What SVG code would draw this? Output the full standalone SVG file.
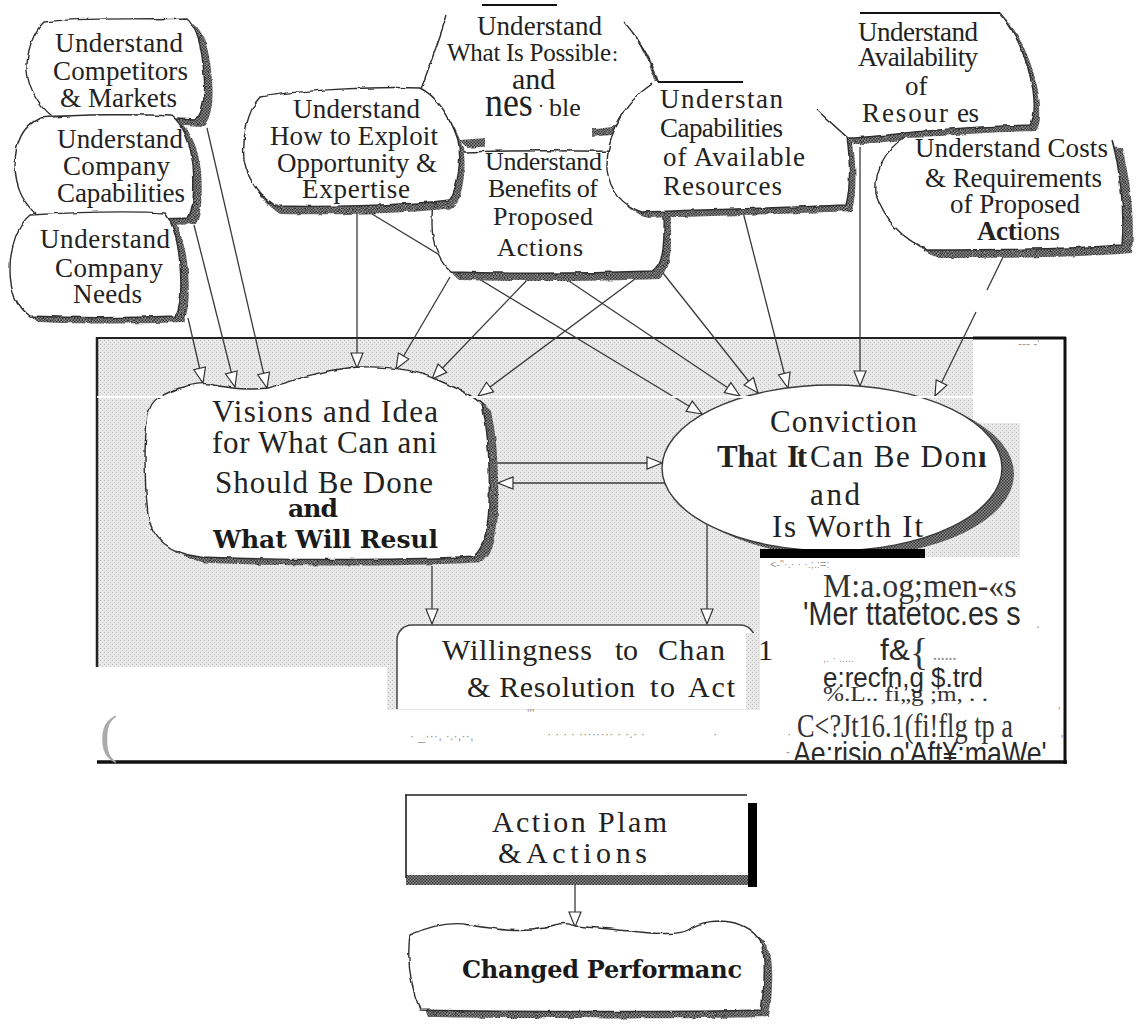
<svg xmlns="http://www.w3.org/2000/svg" width="1142" height="1026" viewBox="0 0 1142 1026">
<defs>
<style>
.t{font-family:"Liberation Serif","Times New Roman",serif;font-size:27px;fill:#222}
.t26{font-size:26px}
.tm{font-size:31px}
.tb{font-family:"DejaVu Serif","Liberation Serif",serif;font-weight:bold;font-size:25px;fill:#1a1a1a}
.ln{fill:none;stroke:#3a3a3a;stroke-width:1.3;marker-end:url(#ah)}
.pl{fill:none;stroke:#3a3a3a;stroke-width:1.3}
.cl{fill:#fff;stroke:#2e2e2e;stroke-width:1.4}
.fillonly{fill:#fff;stroke:none}
.edge{fill:none;stroke:#2e2e2e;stroke-width:1.4}
.sh{fill:url(#shade);stroke:none}
.cap{stroke:#111;stroke-width:2.2}
.gs{font-family:"Liberation Sans",Arial,sans-serif;fill:#2a2a2a}
.gr{font-family:"Liberation Serif","Times New Roman",serif;fill:#333}
.junk{font-family:"Liberation Sans",Arial,sans-serif;font-size:12px;fill:#9a9a9a}
</style>
<pattern id="shade" width="3" height="3" patternUnits="userSpaceOnUse">
<rect width="3" height="3" fill="#8c8c8c"/>
<rect width="1.5" height="1.5" fill="#383838"/>
<rect x="1.5" y="1.5" width="1.5" height="1.5" fill="#383838"/>
</pattern>
<pattern id="stip" width="4" height="4" patternUnits="userSpaceOnUse">
<rect width="4" height="4" fill="#e9e9e9"/>
<rect width="1" height="1" fill="#bbbbbb"/>
<rect x="2" y="2" width="1" height="1" fill="#c8c8c8"/>
</pattern>
<filter id="rough" x="-5%" y="-5%" width="110%" height="110%">
<feTurbulence type="fractalNoise" baseFrequency="0.09" numOctaves="2" seed="3" result="n"/>
<feDisplacementMap in="SourceGraphic" in2="n" scale="3.5" xChannelSelector="R" yChannelSelector="G"/>
</filter>
<marker id="ah" markerWidth="18" markerHeight="14" refX="16" refY="7" orient="auto" markerUnits="userSpaceOnUse">
<path d="M1,1 L16,7 L1,13 Z" fill="#fff" stroke="#333" stroke-width="1.2"/>
</marker>
<clipPath id="clipBottom"><rect x="0" y="0" width="1142" height="760"/></clipPath>
<clipPath id="clipWill"><polygon points="380,600 765,600 765,633 746,633 746,709 380,709"/></clipPath>

<!-- cloud outlines -->
<path id="p1" d="M44,22 C80,17 140,20 186,18 C196,26 202,45 204,75 C206,95 203,112 196,120 C160,118 100,116 52,116 C40,106 30,92 27,72 C26,52 33,32 44,22 Z"/>
<path id="p2" d="M40,118 C80,114 140,114 172,116 C182,124 190,140 193,165 C195,190 193,210 188,218 C150,220 90,218 40,218 C25,205 15,190 15,165 C15,140 25,125 40,118 Z"/>
<path id="p3" d="M30,215 C80,212 130,211 165,213 C172,222 178,240 180,265 C182,290 180,308 176,316 C130,318 70,318 30,316 C15,305 10,290 10,270 C10,245 18,225 30,215 Z"/>
<path id="p4" d="M260,97 C300,90 380,86 420,88 C435,95 450,115 458,140 C462,160 458,185 450,200 C400,206 320,207 275,206 C258,195 248,180 244,160 C242,135 248,110 260,97 Z"/>
<path id="p5" d="M445,16 C437,40 428,65 420,92 C432,110 445,125 460,140 C520,135 580,130 612,126 C630,115 645,100 656,88 C650,62 640,42 626,24 C560,18 500,16 445,16 Z"/>
<path id="p6" d="M440,153 C500,150 600,150 650,153 C660,172 665,200 664,230 C664,255 660,266 652,271 C600,273 520,274 452,272 C440,262 432,245 432,225 C432,200 434,175 440,153 Z"/>
<path id="p7" d="M652,82 L745,82 C775,88 800,98 818,110 L847,137 C850,160 851,185 846,205 C780,208 700,210 642,212 C622,205 610,190 607,170 C606,140 620,105 652,82 Z"/>
<path id="p8" d="M860,13 L1000,13 C1015,30 1028,60 1033,90 C1035,105 1035,118 1030,125 C1000,126 960,127 905,133 C880,136 860,138 848,138 L817,110 C820,80 835,40 860,13 Z"/>
<path id="p9" d="M905,137 C960,135 1060,136 1112,140 C1120,170 1125,210 1122,245 C1060,250 980,250 928,250 C905,240 885,222 876,195 C874,170 885,150 905,137 Z"/>
<path id="pv" d="M158,398 C175,388 195,382 210,384 C230,389 250,390 268,388 C300,378 330,368 360,367 C390,366 415,370 435,379 C455,387 475,396 482,405 C488,430 490,470 489,505 C488,530 484,548 474,556 C420,560 300,561 200,557 C170,553 152,540 148,515 C144,480 144,440 148,415 C150,405 153,401 158,398 Z"/>
<path id="pc" d="M410,935 C430,926 450,921 470,925 C500,930 520,933 545,928 C560,922 570,923 575,926 C600,928 620,930 640,932 C660,934 680,935 688,930 C700,921 720,919 735,923 C750,928 758,935 762,945 C766,965 764,990 761,1010 C700,1012 500,1012 420,1010 C412,990 406,965 410,935 Z"/>
</defs>

<rect width="1142" height="1026" fill="#fff"/>

<!-- stippled panel and its frame -->
<g id="frame">
<polygon fill="url(#stip)" points="97,338 973,338 973,423 1020,423 1020,557 760,557 760,710 387,710 387,667 97,667"/>
<line x1="97" y1="338" x2="973" y2="338" stroke="#222" stroke-width="2"/>
<line x1="973" y1="338" x2="1066" y2="338" stroke="#111" stroke-width="3"/>
<line x1="97" y1="337" x2="97" y2="667" stroke="#222" stroke-width="2.5"/>
<line x1="1065" y1="337" x2="1065" y2="764" stroke="#111" stroke-width="3"/>
<line x1="97" y1="762" x2="1067" y2="762" stroke="#111" stroke-width="3.5"/>
</g>

<!-- connectors -->
<g id="connectors">
<line class="ln" x1="188" y1="318" x2="203" y2="383"/>
<line class="ln" x1="194" y1="225" x2="235" y2="387"/>
<line class="ln" x1="207" y1="128" x2="267" y2="388"/>
<line class="ln" x1="357" y1="212" x2="357" y2="368"/>
<line class="ln" x1="450" y1="277" x2="396" y2="369"/>
<line class="ln" x1="530" y1="277" x2="432" y2="379"/>
<line class="ln" x1="643" y1="273" x2="478" y2="396"/>
<line class="ln" x1="372" y1="214" x2="702" y2="414"/>
<line class="ln" x1="563" y1="277" x2="740" y2="396"/>
<line class="ln" x1="663" y1="273" x2="758" y2="393"/>
<line class="ln" x1="743" y1="212" x2="788" y2="388"/>
<line class="ln" x1="860" y1="147" x2="860" y2="386"/>
<line class="pl" x1="1005" y1="253" x2="987" y2="290"/>
<line class="ln" x1="976" y1="312" x2="935" y2="396"/>
<line class="ln" x1="497" y1="463" x2="662" y2="463"/>
<line class="ln" x1="665" y1="483" x2="498" y2="483"/>
<line class="ln" x1="432" y1="566" x2="432" y2="624"/>
<line class="ln" x1="707" y1="524" x2="707" y2="624"/>
<line class="ln" x1="575" y1="885" x2="575" y2="927"/>
</g>

<!-- top row of inputs -->
<g id="node-competitors">
<g filter="url(#rough)"><use href="#p1" class="sh" transform="translate(8,6)"/><use href="#p1" class="cl"/></g>
<text class="t" x="55" y="52" textLength="128">Understand</text>
<text class="t" x="53" y="80" textLength="135">Competitors</text>
<text class="t" x="60" y="107" textLength="117">&amp; Markets</text>
</g>
<g id="node-capabilities">
<g filter="url(#rough)"><use href="#p2" class="sh" transform="translate(8,6)"/><use href="#p2" class="cl"/></g>
<text class="t" x="57" y="148" textLength="126">Understand</text>
<text class="t" x="63" y="175" textLength="107">Company</text>
<text class="t" x="57" y="202" textLength="128">Capabilities</text>
</g>
<g id="node-needs">
<g filter="url(#rough)"><use href="#p3" class="sh" transform="translate(8,6)"/><use href="#p3" class="cl"/></g>
<text class="t" x="40" y="248" textLength="130">Understand</text>
<text class="t" x="55" y="277" textLength="108">Company</text>
<text class="t" x="73" y="303" textLength="69">Needs</text>
</g>

<g id="node-possible">
<g filter="url(#rough)">
<use href="#p5" class="sh" transform="translate(7,8)"/>
<use href="#p5" class="fillonly"/>
<path class="edge" d="M447,14 C440,38 430,64 420,92"/>
<path class="edge" d="M624,22 C640,40 652,62 658,84"/>
</g>
<line class="cap" x1="482" y1="5" x2="557" y2="5" stroke-width="1.6"/>
<rect x="485" y="96" width="107" height="57" fill="#fff"/>
<text class="t" x="477" y="35" textLength="125">Understand</text>
<text class="t" x="447" y="61" textLength="164" style="font-size:25px">What Is Possible</text>
<text class="t" x="612" y="61" fill="#aaa" style="font-size:22px">:</text>
<text class="t" x="512" y="89" style="font-size:30px">and</text>
<text class="t" transform="translate(485,116) scale(0.9,1)" textLength="53" lengthAdjust="spacingAndGlyphs" style="font-size:40px">nes</text>
<text class="t" x="538" y="112" style="font-size:18px">·</text>
<text class="t" x="549" y="116" style="font-size:26px">ble</text>
</g>

<g id="node-benefits">
<g filter="url(#rough)"><use href="#p6" class="sh" transform="translate(7,8)"/><use href="#p6" class="cl"/></g>
<text class="t t26" x="485" y="170" textLength="117">Understand</text>
<text class="t t26" x="488" y="197" textLength="110">Benefits of</text>
<text class="t t26" x="493" y="225" textLength="100">Proposed</text>
<text class="t t26" x="497" y="256" textLength="86">Actions</text>
</g>

<g id="node-exploit">
<g filter="url(#rough)"><use href="#p4" class="sh" transform="translate(5,8)"/><use href="#p4" class="cl"/></g>
<text class="t" x="293" y="118" textLength="127">Understand</text>
<text class="t" x="270" y="145" textLength="168">How to Exploit</text>
<text class="t" x="277" y="172" textLength="160">Opportunity &amp;</text>
<text class="t" x="302" y="198" textLength="108">Expertise</text>
</g>

<g id="node-resources">
<g filter="url(#rough)">
<use href="#p7" class="sh" transform="translate(6,6)"/>
<use href="#p7" class="fillonly"/>
<path class="edge" d="M652,84 C620,105 606,140 607,170 C610,190 622,205 642,212 C700,210 780,208 846,205 C851,185 850,160 847,137 L818,110"/>
</g>
<line class="cap" x1="658" y1="82" x2="743" y2="82" stroke-width="1.6"/>
<text class="t" x="660" y="108" textLength="123">Understan</text>
<text class="t" x="660" y="137" textLength="123">Capabilities</text>
<text class="t" x="663" y="166" textLength="142">of Available</text>
<text class="t" x="663" y="195" textLength="119">Resources</text>
</g>

<g id="node-availability">
<g filter="url(#rough)">
<use href="#p8" class="sh" transform="translate(6,6)"/>
<use href="#p8" class="fillonly"/>
<path class="edge" d="M1000,13 C1015,30 1028,60 1033,90 C1035,105 1035,118 1030,125 C1000,126 960,127 905,133 C880,136 860,138 848,138 L817,110"/>
</g>
<line class="cap" x1="860" y1="13" x2="1000" y2="13" stroke-width="2.6"/>
<text class="t" x="858" y="41" textLength="120">Understand</text>
<text class="t" x="858" y="66" textLength="120">Availability</text>
<text class="t" x="905" y="95">of</text>
<text class="t" x="862" y="122" textLength="86">Resour</text>
<text class="t" x="957" y="122" textLength="22">es</text>
</g>

<g id="node-costs">
<g filter="url(#rough)">
<use href="#p9" class="sh" transform="translate(10,8)"/>
<use href="#p9" class="fillonly"/>
<path class="edge" d="M905,137 C885,150 874,170 876,195 C885,222 905,240 928,250 C980,250 1060,250 1122,245 C1125,210 1120,170 1112,140"/>
</g>
<text class="t" x="915" y="157" textLength="193">Understand Costs</text>
<text class="t" x="925" y="187" textLength="177">&amp; Requirements</text>
<text class="t" x="950" y="213" textLength="130">of Proposed</text>
<text class="t" x="977" y="240" textLength="83"><tspan font-weight="bold">Act</tspan>ions</text>
</g>

<!-- inside the panel -->
<g id="node-visions">
<g filter="url(#rough)"><use href="#pv" class="sh" transform="translate(9,6)"/><use href="#pv" class="cl"/></g>
<text class="t tm" x="212" y="422" textLength="226">Visions and Idea</text>
<text class="t tm" x="212" y="453" textLength="225">for What Can ani</text>
<text class="t tm" x="215" y="493" textLength="218">Should Be Done</text>
<text class="tb" x="288" y="517" textLength="50">and</text>
<text class="tb" x="213" y="548" textLength="225">What Will Resul</text>
</g>

<g id="node-conviction">
<ellipse cx="844" cy="474" rx="170" ry="83" fill="url(#shade)"/>
<ellipse cx="832" cy="468" rx="170" ry="83" fill="#fff" stroke="#3a3a3a" stroke-width="1.4"/>
<rect x="760" y="549" width="165" height="9" fill="#000"/>
<text class="t tm" x="770" y="432" textLength="147">Conviction</text>
<text class="t tm" x="717" y="467" textLength="60"><tspan font-weight="bold">Th</tspan>at</text>
<text class="t tm" x="787" y="467" textLength="20" font-weight="bold">It</text>
<text class="t tm" x="810" y="467" textLength="167">Can Be Don</text>
<text class="t tm" x="978" y="467" font-weight="bold">ı</text>
<text class="t tm" x="810" y="505" textLength="50">and</text>
<text class="t tm" x="772" y="537" textLength="151">Is Worth It</text>
</g>

<g id="node-willingness">
<rect x="397" y="625" width="358" height="100" rx="15" fill="#fff" stroke="#444" stroke-width="1.5" clip-path="url(#clipWill)"/>
<text class="t" x="442" y="660" textLength="150" style="font-size:30px">Willingness</text>
<text class="t" x="615" y="660" textLength="23" style="font-size:30px">to</text>
<text class="t" x="658" y="660" textLength="67" style="font-size:30px">Chan</text>
<text class="t" x="758" y="660" fill="#888" style="font-size:30px">1</text>
<text class="t" x="467" y="697" textLength="168" style="font-size:30px">&amp; Resolution</text>
<text class="t" x="650" y="697" textLength="25" style="font-size:30px">to</text>
<text class="t" x="688" y="697" textLength="47" style="font-size:30px">Act</text>
</g>

<!-- band across the panel -->
<line x1="97" y1="397" x2="973" y2="397" stroke="#fff" stroke-width="2"/>

<!-- stray marks and overprinted, condensed lines in the lower right of the panel -->
<g id="notes">
<text class="junk" x="1018" y="348">--- -'</text>
<text class="junk" x="770" y="568" style="font-size:11px">&lt;-"·.·     ·          ·.;.:=:</text>
<text class="gr" transform="translate(823,597) scale(0.94,1)" textLength="206" lengthAdjust="spacingAndGlyphs" style="font-size:34px">M:a.og;men-«s</text>
<text class="gs" transform="translate(803,625) scale(0.85,1)" textLength="256" lengthAdjust="spacingAndGlyphs" style="font-size:34px">'Mer ttatetoc.es s</text>
<text class="junk" x="1036" y="628" style="font-size:14px">.</text>
<text class="junk" x="823" y="662" style="font-size:11px">,. ·  .....</text>
<text class="gs" x="880" y="660" textLength="30" lengthAdjust="spacingAndGlyphs" style="font-size:30px">f&amp;</text>
<text class="gr" x="910" y="665" fill="#777" style="font-size:38px">{</text>
<text class="junk" x="933" y="660" font-weight="bold" style="font-size:14px">......</text>
<text class="gr" x="823" y="701" textLength="165" lengthAdjust="spacingAndGlyphs" fill="#999" style="font-size:22px">%.L..   fi„g   ;m,  . .</text>
<text class="gs" transform="translate(823,687) scale(0.925,1)" textLength="173" lengthAdjust="spacingAndGlyphs" style="font-size:28px">e:recfn,g $.trd</text>
<text class="gr" transform="translate(797,737) scale(0.774,1)" textLength="279" lengthAdjust="spacingAndGlyphs" style="font-size:34px">C&lt;?Jt16.1(fi!flg tp a</text>
<g clip-path="url(#clipBottom)">
<text class="gs" transform="translate(793,764) scale(0.84,1)" textLength="302" lengthAdjust="spacingAndGlyphs" style="font-size:32px">Ae:risio o'Aft¥:maWe'</text>
</g>
<text class="junk" x="786" y="756">-</text>
<text class="junk" x="1058" y="716">'</text>
<text class="junk" x="1061" y="744">'</text>
<text class="junk" x="410" y="740" style="font-size:13px">· _···, ·.·,··,</text>
<text class="junk" x="527" y="718" style="font-size:13px">'''</text>
<text class="junk" x="547" y="738" style="font-size:13px">· · · · ········ · ·.· ·</text>
<text class="junk" x="713" y="738" style="font-size:13px">·</text>
<text class="junk" x="787" y="738" style="font-size:13px">·</text>
<text x="100" y="752" font-family="Liberation Serif, serif" font-size="52" fill="#aaa">(</text>
</g>

<!-- below the panel -->
<g id="node-action">
<rect x="406" y="795" width="342" height="82" fill="#fff"/>
<rect x="406" y="875" width="351" height="10" fill="url(#shade)"/>
<path d="M405,795 H747 M406,795 V878" stroke="#222" stroke-width="1.6" fill="none"/>
<rect x="748" y="803" width="9" height="84" fill="#000"/>
<text class="t" x="492" y="832" textLength="175" style="font-size:30px">Action  Plam</text>
<text class="t" x="498" y="863" textLength="149" style="font-size:30px">&amp;Actions</text>
</g>

<g id="node-performance">
<g filter="url(#rough)"><use href="#pc" class="sh" transform="translate(8,7)"/><use href="#pc" class="cl"/></g>
<text class="tb" x="462" y="978" textLength="280" style="font-size:24px">Changed Performanc</text>
</g>
</svg>
